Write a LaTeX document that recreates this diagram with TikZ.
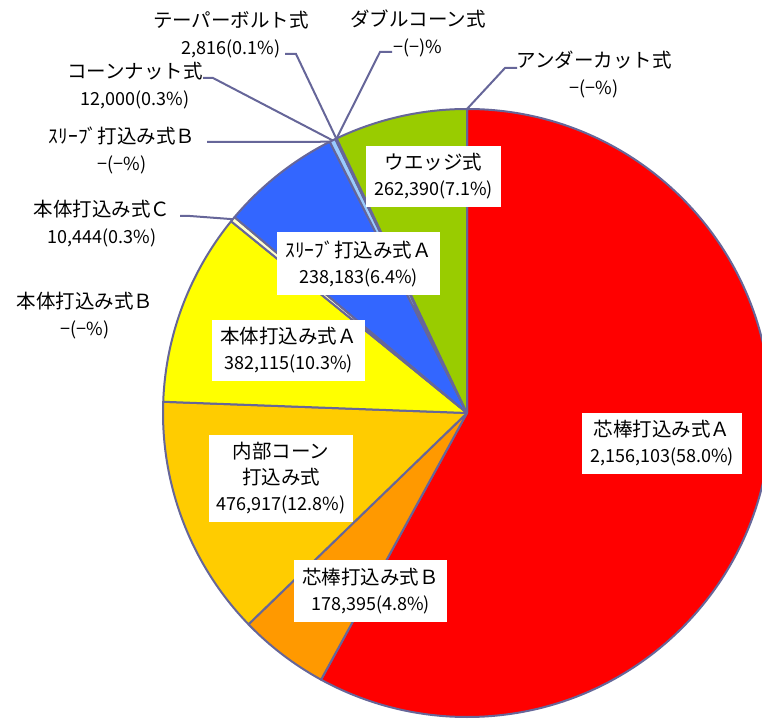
\documentclass[tikz,border=0pt]{standalone}
\usepackage{fontspec}
\setmainfont{Noto Sans CJK JP}
\usepackage{tikz}
\definecolor{edge}{RGB}{102,102,153}
\definecolor{coreA}{RGB}{255,0,0}
\definecolor{coreB}{RGB}{255,153,0}
\definecolor{innercone}{RGB}{255,204,0}
\definecolor{bodyA}{RGB}{255,255,0}
\definecolor{bodyC}{RGB}{255,255,204}
\definecolor{sleeveA}{RGB}{51,102,255}
\definecolor{conenut}{RGB}{153,204,255}
\definecolor{taperbolt}{RGB}{204,236,255}
\definecolor{wedge}{RGB}{153,204,0}
\newcommand\val[1]{{\fontsize{18pt}{27pt}\selectfont #1}}
\tikzstyle{slice}=[draw=edge,line width=2pt,line join=round]
\tikzstyle{leader}=[draw=edge,line width=2pt]
\tikzstyle{outer}=[align=center,inner sep=0pt,font=\fontsize{19.5pt}{27pt}\selectfont]
\tikzstyle{inner}=[fill=white,align=center,inner xsep=8pt,inner ysep=8pt,font=\fontsize{19.5pt}{26pt}\selectfont]

\begin{document}
\begin{tikzpicture}[x=1pt,y=1pt]
                  \useasboundingbox (0,0) rectangle (762,720);
                  \def\R{304}
                  \coordinate (c) at (467,307);

                  % slices, clockwise from the top
                  \begin{scope}[shift={(c)}]
                  \filldraw [slice,fill=coreA] (0,0) -- (90:\R) arc (90:-118.691:\R) -- cycle;
                  \filldraw [slice,fill=coreB] (0,0) -- (-118.691:\R) arc (-118.691:-135.958:\R) -- cycle;
                  \filldraw [slice,fill=innercone] (0,0) -- (-135.958:\R) arc (-135.958:-182.119:\R) -- cycle;
                  \filldraw [slice,fill=bodyA] (0,0) -- (-182.119:\R) arc (-182.119:-219.104:\R) -- cycle;
                  \filldraw [slice,fill=bodyC] (0,0) -- (-219.104:\R) arc (-219.104:-220.115:\R) -- cycle;
                  \filldraw [slice,fill=sleeveA] (0,0) -- (-220.115:\R) arc (-220.115:-243.169:\R) -- cycle;
                  \filldraw [slice,fill=conenut] (0,0) -- (-243.169:\R) arc (-243.169:-244.331:\R) -- cycle;
                  \filldraw [slice,fill=taperbolt] (0,0) -- (-244.331:\R) arc (-244.331:-244.603:\R) -- cycle;
                  \filldraw [slice,fill=wedge] (0,0) -- (-244.603:\R) arc (-244.603:-270:\R) -- cycle;
                  \end{scope}

                  % outside labels
                  \node (tb) at (231,685) [outer] {テーパーボルト式\\\val{2,816(0.1\%)}};
                  \node (cn) at (135,634.5) [outer] {コーンナット式\\\val{12,000(0.3\%)}};
                  \node (sb) at (122,570) [outer] {ｽﾘｰﾌﾞ打込み式Ｂ\\\val{−(−\%)}};
                  \node (bc) at (102,496) [outer] {本体打込み式Ｃ\\\val{10,444(0.3\%)}};
                  \node (bb) at (85,404) [outer] {本体打込み式Ｂ\\\val{−(−\%)}};
                  \node (dc) at (418,686.5) [outer] {ダブルコーン式\\\val{−(−)\%}};
                  \node (uc) at (594,645.5) [outer] {アンダーカット式\\\val{−(−\%)}};

                  % leader lines
                  \coordinate (tbA) at (285,666);
                  \coordinate (tbP) at ([shift={(115.47:\R)}]c);
                  \coordinate (cnA) at (203,642);
                  \coordinate (cnP) at ([shift={(116.25:\R)}]c);
                  \coordinate (sbA) at (207,578);
                  \coordinate (sbP) at ([shift={(116.83:\R)}]c);
                  \coordinate (bcA) at (180,504);
                  \coordinate (bcP) at ([shift={(140.39:\R)}]c);
                  \coordinate (dcA) at (392,668);
                  \coordinate (dcP) at ([shift={(115.40:\R)}]c);
                  \coordinate (ucA) at (517,652);
                  \coordinate (ucP) at ([shift={(90:\R)}]c);

                  \draw [leader] (tbA) -- ++(11,0) -- (tbP);
                  \draw [leader] (cnA) -- ++(10,0) -- (cnP);
                  \draw [leader] (sbA) -- ++(10,0) -- (sbP);
                  \draw [leader] (bcA) -- ++(10,0) -- (bcP);
                  \draw [leader] (dcA) -- ++(-12,0) -- (dcP);
                  \draw [leader] (ucA) -- ++(-12,0) -- (ucP);

                  % labels inside the pie
                  \node (wd) at (433.5,543.5) [inner] {ウエッジ式\\\val{262,390(7.1\%)}};
                  \node (sa) at (358.5,456.5) [inner] {ｽﾘｰﾌﾞ打込み式Ａ\\\val{238,183(6.4\%)}};
                  \node (ba) at (288.5,369.5) [inner] {本体打込み式Ａ\\\val{382,115(10.3\%)}};
                  \node (ic) at (281,241.5) [inner] {内部コーン\\打込み式\\\val{476,917(12.8\%)}};
                  \node (cb) at (370.5,129) [inner] {芯棒打込み式Ｂ\\\val{178,395(4.8\%)}};
                  \node (ca) at (662,276.5) [inner] {芯棒打込み式Ａ\\\val{2,156,103(58.0\%)}};
              \end{tikzpicture}
\end{document}
